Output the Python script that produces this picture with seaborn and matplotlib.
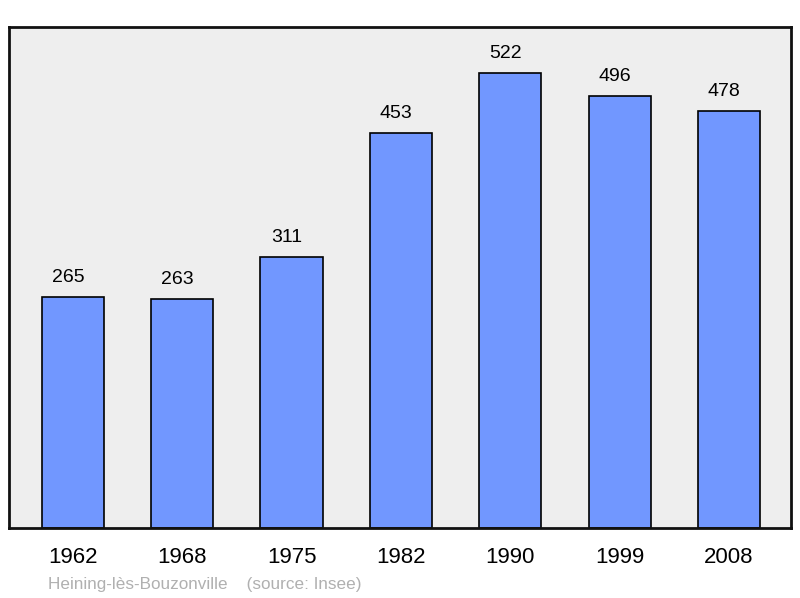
import matplotlib.pyplot as plt
import seaborn as sns
import pandas as pd

years = ["1962", "1968", "1975", "1982", "1990", "1999", "2008"]
population = [265, 263, 311, 453, 522, 496, 478]
town = "Heining-lès-Bouzonville"
source = "(source: Insee)"

df = pd.DataFrame({"year": years, "pop": population})

sns.set_style("white")
plt.rcParams['font.family'] = ['Liberation Sans', 'DejaVu Sans']
plt.rcParams['text.color'] = "black"
plt.rcParams['xtick.color'] = "black"

fig = plt.figure(figsize=(8, 5.98), dpi=100)
ax = fig.add_axes([0.01125, 0.117, 0.9775, 0.838])
ax.set_facecolor("#eeeeee")

sns.barplot(data=df, x="year", y="pop", color="#7197ff", saturation=1,
            width=0.57, edgecolor="black", linewidth=1.2, ax=ax)

# value labels sit a little left of the bar centre in the original
for i, v in enumerate(population):
    ax.annotate(str(v), (i, v), xytext=(-3.5, 8), textcoords="offset points",
                ha="center", va="bottom", fontsize=14, color="black")

ax.set_xlim(-0.585, 6.567)
ax.set_ylim(0, 575)
ax.set_yticks([])
ax.set_xlabel("")
ax.set_ylabel("")
ax.tick_params(axis="x", length=0, labelsize=16, pad=14, labelcolor="black")
for s in ax.spines.values():
    s.set_visible(True)
    s.set_linewidth(2)
    s.set_color("#111111")

fig.text(0.06, 0.015, town + "    " + source, color="#b0b0b0", fontsize=12.3)

fig.savefig("out.png", dpi=100)
